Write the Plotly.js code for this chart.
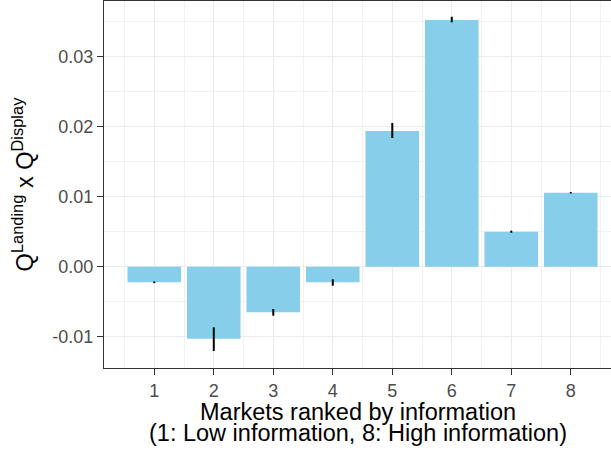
<!DOCTYPE html>
<html>
<head>
<meta charset="utf-8">
<script src="https://cdn.plot.ly/plotly-3.0.1.min.js"></script>
<style>
  html, body { margin: 0; padding: 0; background: #ffffff; }
  #chart { width: 611px; height: 456px; }
</style>
</head>
<body>
<div id="chart"></div>
<script>
// Markets ordered from low (1) to high (8) information
const markets = [1, 2, 3, 4, 5, 6, 7, 8];
// Interaction coefficient per market
const estimate = [-0.00223, -0.0103, -0.00652, -0.00223, 0.01939, 0.03524, 0.0050, 0.01057];
// Confidence interval bounds
const ciLow  = [-0.00235, -0.01204, -0.0070, -0.00271, 0.01839, 0.03491, 0.00485, 0.01047];
const ciHigh = [-0.0021, -0.00866, -0.00604, -0.0018, 0.02053, 0.03571, 0.00515, 0.01067];
// Y-axis tick labels
const yTickVals = [-0.01, 0, 0.01, 0.02, 0.03];
const yTickText = ["-0.01", "0.00", "0.01", "0.02", "0.03"];
const xTitleLines = ["Markets ranked by information", "(1: Low information, 8: High information)"];

const errPlus = estimate.map((v, i) => ciHigh[i] - v);
const errMinus = estimate.map((v, i) => v - ciLow[i]);

const FONT = "Liberation Sans, Arial, Helvetica, sans-serif";
const GRID = "#EBEBEB";
const BORDER = "#333333";

const trace = {
  type: "bar",
  x: markets,
  y: estimate,
  width: 0.9,
  marker: { color: "#87CEEB", line: { width: 0 } },
  error_y: {
    type: "data",
    symmetric: false,
    array: errPlus,
    arrayminus: errMinus,
    color: "#000000",
    thickness: 2,
    width: 0
  },
  hoverinfo: "x+y"
};

const layout = {
  width: 611,
  height: 456,
  margin: { l: 104, r: 0, t: 1, b: 88, pad: 0 },
  paper_bgcolor: "#ffffff",
  plot_bgcolor: "#ffffff",
  showlegend: false,
  font: { family: FONT },
  xaxis: {
    range: [0.155, 8.676],
    tickmode: "linear",
    tick0: 1,
    dtick: 1,
    ticks: "outside",
    ticklen: 6,
    tickwidth: 1.1,
    tickcolor: BORDER,
    showline: true,
    linecolor: BORDER,
    linewidth: 1.1,
    mirror: true,
    showgrid: true,
    gridcolor: GRID,
    gridwidth: 1.2,
    zeroline: false,
    automargin: false,
    minor: { tick0: 0.5, dtick: 1, showgrid: true, gridcolor: GRID, gridwidth: 0.7, ticks: "" },
    tickfont: { family: FONT, size: 18, color: "#4D4D4D" }
  },
  yaxis: {
    range: [-0.01447, 0.03796],
    tickmode: "array",
    tickvals: yTickVals,
    ticktext: yTickText,
    ticks: "outside",
    ticklen: 6,
    tickwidth: 1.1,
    tickcolor: BORDER,
    showline: true,
    linecolor: BORDER,
    linewidth: 1.1,
    showgrid: true,
    gridcolor: GRID,
    gridwidth: 1.2,
    zeroline: false,
    automargin: false,
    minor: { tick0: 0.005, dtick: 0.01, showgrid: true, gridcolor: GRID, gridwidth: 0.7, ticks: "" },
    tickfont: { family: FONT, size: 18, color: "#4D4D4D" },
    title: {
      text: "Q<sup>Landing</sup> x Q<sup>Display</sup>",
      font: { family: FONT, size: 23.5, color: "#000000" },
      standoff: 12
    }
  },
  annotations: [
    {
      text: xTitleLines[0], xref: "paper", yref: "paper", x: 0.5, y: -0.12,
      xanchor: "center", yanchor: "middle", showarrow: false,
      font: { family: FONT, size: 23.5, color: "#000000" }
    },
    {
      text: xTitleLines[1], xref: "paper", yref: "paper", x: 0.5, y: -0.178,
      xanchor: "center", yanchor: "middle", showarrow: false,
      font: { family: FONT, size: 23.5, color: "#000000" }
    }
  ]
};

Plotly.newPlot("chart", [trace], layout, { displayModeBar: false, staticPlot: true });
</script>
</body>
</html>
